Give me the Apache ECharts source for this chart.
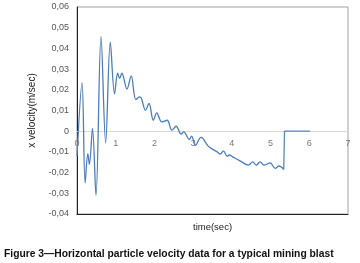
<!DOCTYPE html>
<html><head><meta charset="utf-8">
<script src="https://cdn.jsdelivr.net/npm/echarts@6/dist/echarts.min.js"></script>
<style>html,body{margin:0;padding:0;background:#fff}#c{width:360px;height:263px}</style>
</head><body><div id="c"></div>
<script>
const yTicks = [-0.04, -0.03, -0.02, -0.01, 0, 0.01, 0.02, 0.03, 0.04, 0.05, 0.06];
const xTicks = [0, 1, 2, 3, 4, 5, 6, 7];
const timeVals = [0, 0.13, 0.21, 0.28, 0.32, 0.40, 0.49, 0.62, 0.74, 0.86, 0.97, 1.05, 1.10, 1.16, 1.29, 1.40, 1.52, 1.62, 1.66, 1.77, 1.86, 1.97, 2.06, 2.19, 2.33, 2.45, 2.56, 2.69, 2.76, 2.90, 2.96, 3.06, 3.20, 3.25, 3.39, 3.51, 3.62, 3.70, 3.78, 3.88, 3.93, 4.02, 4.21, 4.43, 4.54, 4.63, 4.73, 4.83, 4.99, 5.12, 5.22, 5.34];
const velVals = [-0.012, 0.0235, -0.025, -0.0108, -0.016, 0.0013, -0.031, 0.0458, -0.0057, 0.043, 0.018, 0.028, 0.0255, 0.028, 0.0203, 0.0267, 0.0153, 0.0166, 0.0160, 0.0101, 0.0134, 0.0053, 0.0089, 0.0045, 0.0053, 0.0005, 0.0024, -0.0014, -0.0003, -0.004, -0.0024, -0.0068, -0.003, -0.0035, -0.0072, -0.0088, -0.0100, -0.0111, -0.0095, -0.0121, -0.0115, -0.0124, -0.0143, -0.0164, -0.0148, -0.0164, -0.0148, -0.0164, -0.0153, -0.018, -0.0168, -0.0185];
const tailTime = [5.34, 5.36, 6.02];
const tailVel = [-0.0185, 0, 0];

const chart = echarts.init(document.getElementById('c'));
const yFmt = v => { const r = Math.round(v*100)/100; return r === 0 ? '0' : r.toFixed(2).replace('.', ','); };
chart.setOption({
  animation: false,
  grid: { left: 77, right: 12, top: 7, bottom: 49, show: true, borderColor: '#a0a0a0', borderWidth: 1 },
  xAxis: [{
    type: 'value', min: xTicks[0], max: xTicks[xTicks.length-1], interval: 1,
    position: 'bottom', offset: -83,
    axisLine: { onZero: false, lineStyle: { color: '#d9d9d9', width: 1 } },
    axisTick: { show: false }, splitLine: { show: false },
    axisLabel: { color: '#777', fontSize: 9, fontFamily: 'Liberation Sans', margin: 8 }
  }, {
    type: 'value', min: 0, max: 7, position: 'bottom',
    axisLine: { onZero: false, lineStyle: { color: '#222', width: 1 } },
    axisTick: { show: false }, axisLabel: { show: false }, splitLine: { show: false }
  }],
  yAxis: {
    type: 'value', min: yTicks[0], max: yTicks[yTicks.length-1], interval: 0.01,
    axisLine: { show: true, onZero: false, lineStyle: { color: '#222', width: 1 } },
    axisTick: { show: false }, splitLine: { show: false },
    axisLabel: { color: '#555', fontSize: 9, fontFamily: 'Liberation Sans', margin: 8, formatter: yFmt },
    name: 'x velocity(m/sec)', nameLocation: 'middle', nameGap: 40, nameRotate: 90,
    nameTextStyle: { color: '#222', fontSize: 10, fontFamily: 'Liberation Sans' }
  },
  graphic: [
    { type: 'text', left: 193, top: 222, style: { text: 'time(sec)', fill: '#222', font: '9.5px "Liberation Sans"' } },
    { type: 'text', left: 4, top: 249, style: { text: 'Figure 3\u2014Horizontal particle velocity data for a typical mining blast', fill: '#111', font: 'bold 10.3px "Liberation Sans"' } }
  ],
  series: [{
    type: 'line', xAxisIndex: 0, data: timeVals.map((t,i)=>[t, velVals[i]]), smooth: 0.35, showSymbol: false,
    lineStyle: { color: '#4a7ebb', width: 1.3 }
  }, {
    type: 'line', xAxisIndex: 0, data: tailTime.map((t,i)=>[t, tailVel[i]]), smooth: false, showSymbol: false,
    lineStyle: { color: '#5b87bd', width: 1.3 }
  }]
});
</script></body></html>
